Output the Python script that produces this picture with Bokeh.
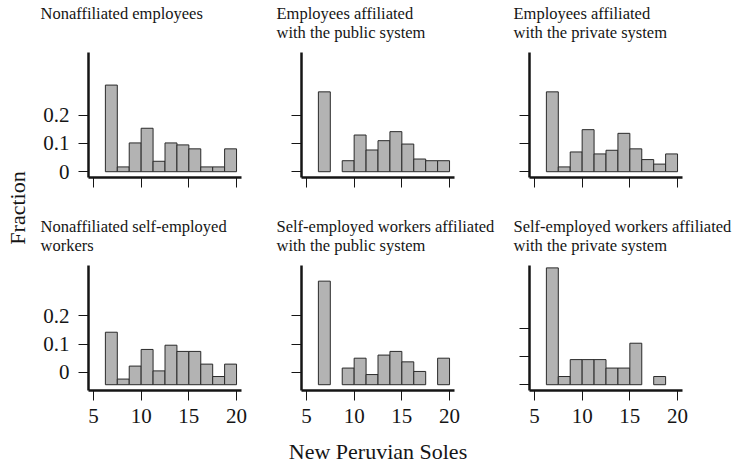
from bokeh.plotting import figure
from bokeh.layouts import row, column
from bokeh.models import Range1d, FixedTicker, ColumnDataSource
from bokeh.embed import file_html
from bokeh.resources import INLINE

# ---- data -------------------------------------------------------------
bin_centers = [6.875, 8.125, 9.375, 10.625, 11.875, 13.125, 14.375, 15.625, 16.875, 18.125, 19.375]
x_ticks = [5, 10, 15, 20]
y_tick_labels = ["0", "0.1", "0.2"]
y_ticks_std = [0.0, 0.1, 0.2]
y_ticks_shift = [0.0435, 0.1435, 0.2435]

nonaff_employees = [0.307, 0.017, 0.102, 0.154, 0.037, 0.102, 0.095, 0.081, 0.017, 0.017, 0.081]
emp_public = [0.283, 0.0, 0.039, 0.130, 0.077, 0.110, 0.142, 0.098, 0.045, 0.039, 0.039]
emp_private = [0.283, 0.017, 0.070, 0.149, 0.063, 0.076, 0.136, 0.081, 0.043, 0.027, 0.063]
nonaff_selfemp = [0.186, 0.020, 0.066, 0.125, 0.049, 0.140, 0.118, 0.118, 0.073, 0.029, 0.073]
selfemp_public = [0.367, 0.0, 0.059, 0.094, 0.036, 0.105, 0.118, 0.081, 0.047, 0.0, 0.094]
selfemp_private = [0.414, 0.029, 0.089, 0.089, 0.089, 0.059, 0.059, 0.147, 0.0, 0.029, 0.0]

titles = [
    "Nonaffiliated employees\n",
    "Employees affiliated\nwith the public system",
    "Employees affiliated\nwith the private system",
    "Nonaffiliated self-employed\nworkers",
    "Self-employed workers affiliated\nwith the public system",
    "Self-employed workers affiliated\nwith the private system",
]
y_label = "Fraction"
x_label = "New Peruvian Soles"

# ---- style / layout ---------------------------------------------------
FONT = "Liberation Serif"
INK = "#151515"
BAR_FILL = "#b3b3b3"
BAR_LINE = "#2a2a2a"

X0, X1 = 4.48, 20.52
Y0, Y1 = -0.0205, 0.4225
PX_PER_Y = 282.2
FW = 153

BL = [58, 47, 21]
BR = [13, 54, 54]
TOFF = [-48, -25, -16]
# (border_top, frame_height, border_bottom) per panel
VGEOM = [(41, 136, 23), (41, 136, 23), (41, 136, 23),
         (54, 136, 73), (54, 136, 73), (54, 136, 73)]


def make_panel(k, values, title, yticks):
    col, r = k % 3, k // 3
    bt, fh, bb = VGEOM[k]
    p = figure(frame_width=FW, frame_height=fh,
               x_range=Range1d(X0, X1), y_range=Range1d(Y0, Y0 + fh / PX_PER_Y),
               output_backend="svg", toolbar_location=None,
               min_border_left=BL[col], min_border_right=BR[col],
               min_border_top=bt, min_border_bottom=bb)
    p.outline_line_color = None
    p.xgrid.visible = False
    p.ygrid.visible = False
    p.background_fill_color = "white"
    p.border_fill_color = "white"

    p.title.text = title
    p.title.align = "left"
    p.title.offset = TOFF[col]
    p.title.standoff = 0
    p.title.text_font = FONT
    p.title.text_font_size = "16.5px"
    p.title.text_font_style = "normal"
    p.title.text_color = INK
    p.title.text_line_height = 1.0

    xs = [c for c, v in zip(bin_centers, values) if v > 0]
    ts = [v for v in values if v > 0]
    src = ColumnDataSource(data=dict(x=xs, top=ts))
    p.vbar(x="x", top="top", bottom=0, width=1.25, source=src,
           fill_color=BAR_FILL, line_color=BAR_LINE, line_width=1)

    p.xaxis.ticker = FixedTicker(ticks=x_ticks)
    p.yaxis.ticker = FixedTicker(ticks=yticks)
    p.yaxis.major_label_overrides = {t: s for t, s in zip(yticks, y_tick_labels)}
    p.yaxis.bounds = (Y0, Y1)
    for ax in (p.xaxis[0], p.yaxis[0]):
        ax.axis_line_width = 2.5
        ax.axis_line_color = INK
        ax.major_tick_line_width = 1
        ax.major_tick_line_color = INK
        ax.major_tick_out = 10
        ax.major_tick_in = 0
        ax.minor_tick_line_color = None
        ax.major_label_text_font = FONT
        ax.major_label_text_font_size = "21px"
        ax.major_label_text_color = INK
    p.xaxis.major_label_standoff = 8
    p.yaxis.major_label_standoff = 9
    if r == 0:
        p.xaxis.major_label_text_color = None
        p.xaxis.major_label_text_font_size = "1px"
        p.xaxis.major_label_standoff = 0
    if col != 0:
        p.yaxis.major_label_text_color = None
        p.yaxis.major_label_text_font_size = "1px"
        p.yaxis.major_label_standoff = 0
    return p


series = [nonaff_employees, emp_public, emp_private, nonaff_selfemp, selfemp_public, selfemp_private]
tick_sets = [y_ticks_std, y_ticks_std, y_ticks_std, y_ticks_shift, y_ticks_shift, y_ticks_std]
panels = [make_panel(k, series[k], titles[k], tick_sets[k]) for k in range(6)]

# x-axis title under the middle bottom panel
ax5 = panels[4].xaxis[0]
ax5.axis_label = x_label
ax5.axis_label_text_font = FONT
ax5.axis_label_text_font_size = "22px"
ax5.axis_label_text_font_style = "normal"
ax5.axis_label_text_color = INK
ax5.axis_label_standoff = 13

# y-axis title strip
frac = figure(frame_width=1, frame_height=299,
              min_border_left=29, min_border_right=0,
              min_border_top=58, min_border_bottom=106,
              x_axis_location=None, y_axis_location=None,
              output_backend="svg", toolbar_location=None,
              x_range=Range1d(0, 1), y_range=Range1d(0, 1),
              title_location="left")
frac.outline_line_color = None
frac.grid.visible = False
frac.title.text = y_label
frac.title.align = "center"
frac.title.standoff = 0
frac.title.text_font = FONT
frac.title.text_font_size = "22px"
frac.title.text_font_style = "normal"
frac.title.text_color = INK

layout = row(frac, column(row(panels[0], panels[1], panels[2]),
                          row(panels[3], panels[4], panels[5])))

open("out.html", "w").write(file_html(layout, INLINE))
